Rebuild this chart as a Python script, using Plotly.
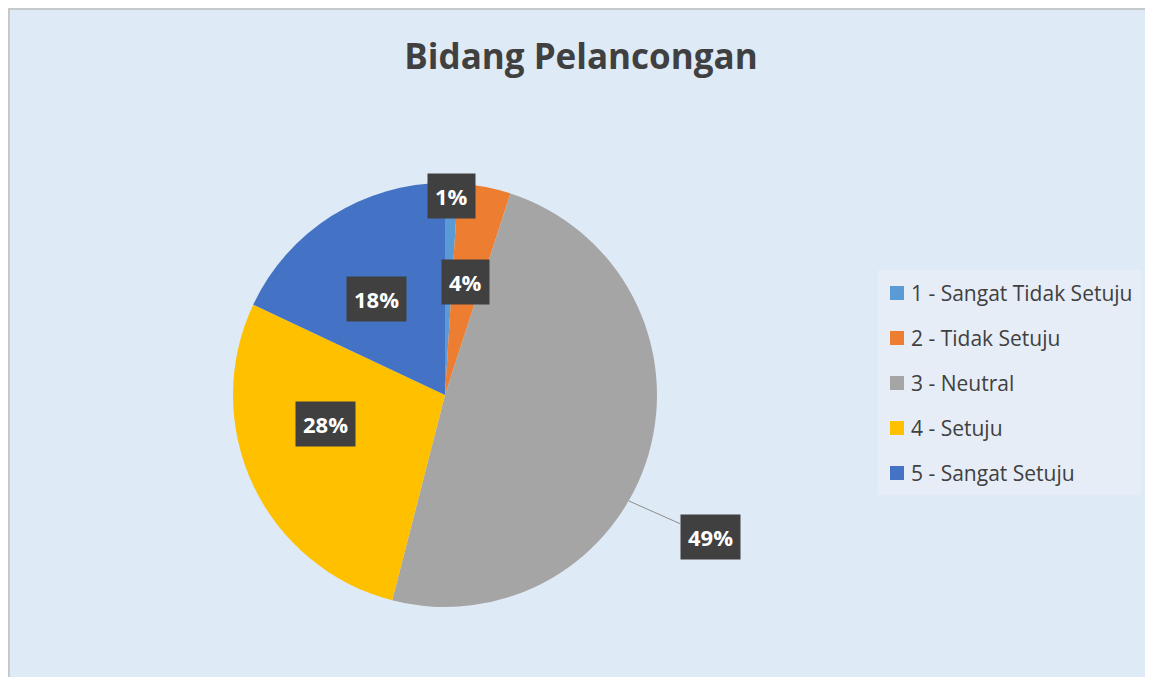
import plotly.graph_objects as go

# ---- data ----
categories = ["1 - Sangat Tidak Setuju", "2 - Tidak Setuju", "3 - Neutral", "4 - Setuju", "5 - Sangat Setuju"]
values = [1, 4, 49, 28, 18]
colors = ["#5B9BD5", "#ED7D31", "#A5A5A5", "#FFC000", "#4472C4"]
pct_labels = ["1%", "4%", "49%", "28%", "18%"]

W, H = 1153, 677
OFF = 8  # page offset of the figure inside the browser window

def px(x):
    return (x - OFF) / W

def py(y):
    return 1 - (y - OFF) / H

fig = go.Figure()
fig.add_trace(go.Pie(
    labels=categories,
    values=values,
    sort=False,
    direction="clockwise",
    rotation=0,
    marker=dict(colors=colors, line=dict(width=0)),
    textinfo="none",
    showlegend=False,
    domain=dict(x=[px(233), px(657)], y=[py(607), py(183)]),
))

# percent label boxes (pixel positions of label centres)
label_pos = [(451, 196), (465, 282), (710, 537), (325, 424), (376, 299)]
annotations = []
for i, (lab, (lx, ly)) in enumerate(zip(pct_labels, label_pos)):
    common = dict(xref="paper", yref="paper", text="<b>%s</b>" % lab,
                  xanchor="center", yanchor="middle",
                  font=dict(family="Open Sans", size=22, color="white"),
                  bgcolor="#404040", borderpad=7)
    if i == 2:
        tx, ty = 629, 501
        annotations.append(dict(
            x=px(tx), y=py(ty), ax=lx - tx, ay=ly - ty, showarrow=True,
            arrowhead=0, arrowcolor="#8C8C8C", arrowwidth=1, **common))
    else:
        annotations.append(dict(x=px(lx), y=py(ly), showarrow=False, **common))

# legend (manual, text based)
leg_y = [293, 338, 383, 428, 473]
shapes = [
    dict(type="rect", xref="paper", yref="paper",
         x0=px(878), x1=px(1141), y0=py(495), y1=py(270),
         fillcolor="#E6EDF6", line=dict(width=0), layer="below"),
    dict(type="rect", xref="paper", yref="paper",
         x0=0.0008, x1=1.02, y0=-0.02, y1=0.9985,
         line=dict(color="#BFBFBF", width=1.5), fillcolor="rgba(0,0,0,0)"),
]
for cat, col, yy in zip(categories, colors, leg_y):
    shapes.append(dict(type="rect", xref="paper", yref="paper",
                       x0=px(890), x1=px(904), y0=py(yy + 7), y1=py(yy - 7),
                       fillcolor=col, line=dict(width=0)))
    annotations.append(dict(
        x=px(909), y=py(yy), xref="paper", yref="paper",
        xanchor="left", yanchor="middle", showarrow=False,
        text=cat,
        font=dict(family="Open Sans", size=21, color="#404040")))

fig.update_layout(
    width=W, height=H,
    margin=dict(l=0, r=0, t=0, b=0),
    paper_bgcolor="#DEEAF6",
    plot_bgcolor="#DEEAF6",
    title=dict(text="<b>Bidang Pelancongan</b>", x=px(581), xanchor="center",
               y=py(57), yanchor="middle",
               font=dict(family="Open Sans", size=35, color="#404040")),
    annotations=annotations,
    shapes=shapes,
)

fig.write_html("out.html")
